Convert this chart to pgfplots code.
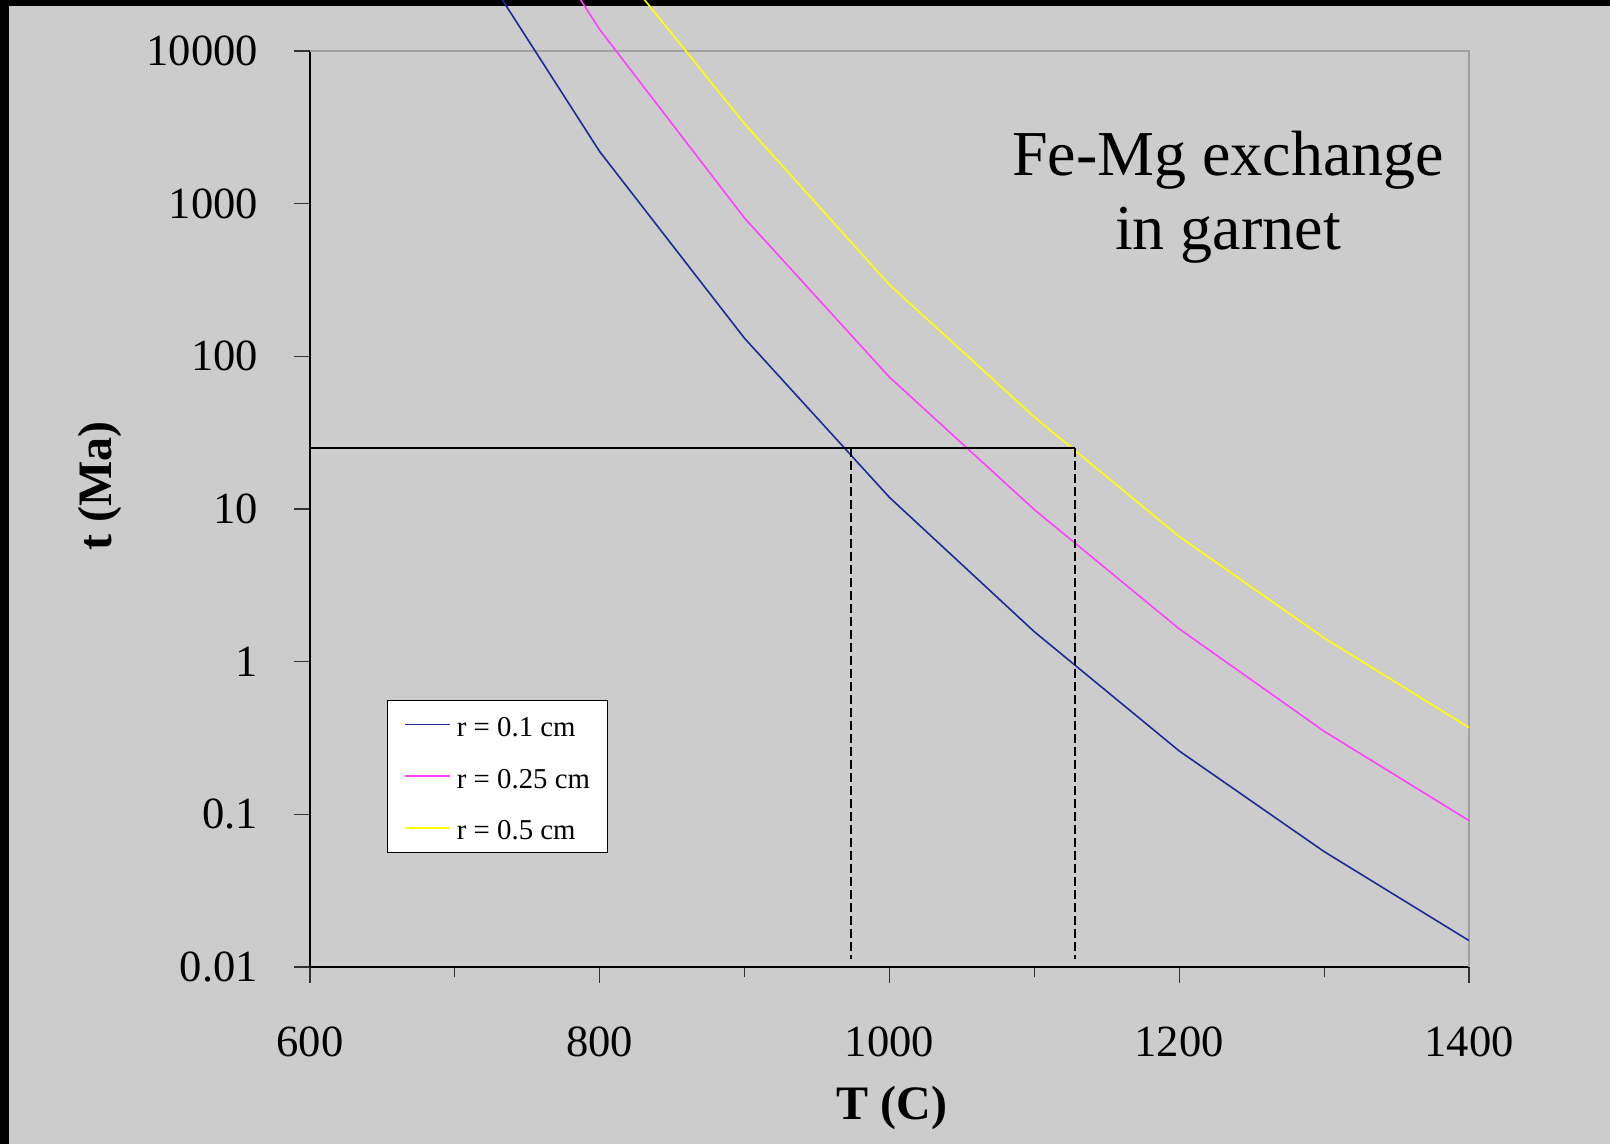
\documentclass[border=0pt]{standalone}
\usepackage{pgfplots}
\pgfplotsset{compat=1.18}
\usepackage{fontspec}
\setmainfont{Liberation Serif}
\definecolor{bg}{HTML}{CCCCCC}
\definecolor{cblue}{HTML}{1A2C96}
\definecolor{cpink}{HTML}{FF40FF}
\definecolor{cyellow}{HTML}{FFFF00}
\definecolor{framegray}{HTML}{A0A0A0}
\begin{document}
\begin{tikzpicture}
\path[use as bounding box] (0,0) rectangle (805pt,572pt);
\fill[bg] (0,0) rectangle (805pt,572pt);
\fill[black] (0,569pt) rectangle (805pt,572pt);
\fill[black] (0,0) rectangle (4.5pt,572pt);
\begin{scope}
\clip (0,0) rectangle (805pt,572pt);
\begin{axis}[
  at={(155pt,88.5pt)}, anchor=south west,
  scale only axis, width=579.5pt, height=458pt,
  xmin=600, xmax=1400, ymode=log, ymin=0.01, ymax=10000,
  clip=false,
  axis x line*=bottom, axis y line*=left,
  axis line style={black, line width=0.6pt},
  tick align=outside,
  xtick={600,800,1000,1200,1400},
  xticklabels={600,800,1000,1200,1400},
  minor xtick={700,900,1100,1300},
  ytick={0.01,0.1,1,10,100,1000,10000},
  yticklabels={0.01,0.1,1,10,100,1000,10000},
  yminorticks=false,
  major tick length=8pt, minor tick length=5pt,
  tick style={black!80, line width=0.6pt},
  ticklabel style={font=\fontsize{22.3}{26}\selectfont},
  yticklabel style={xshift=-14.5pt},
  xticklabel style={yshift=-18.5pt},
  xlabel={T (C)}, ylabel={t (Ma)},
  label style={font=\bfseries\fontsize{24}{28}\selectfont},
  xlabel style={at={(axis description cs:0.502,-0.167)}, anchor=base},
  ylabel style={at={(axis description cs:-0.1812,0.525)}, anchor=center},
  legend style={at={(0.0664,0.2915)}, anchor=north west, draw=black, fill=white,
    inner xsep=8.5pt, inner ysep=5.65pt, row sep=12.8pt, column sep=3pt,
    font=\fontsize{14.4}{17}\selectfont,
    nodes={inner sep=0pt, text height=12.5pt, text depth=0.5pt}},
  legend cell align=left,
  legend image code/.code={\draw[#1] (0pt,0pt) -- (22.5pt,0pt);},
]
\draw[framegray, line width=0.75pt] (rel axis cs:0,1) -- (rel axis cs:1,1) -- (rel axis cs:1,0);
\addplot[cblue, line width=0.8pt] coordinates {(700,66000) (800,2190) (900,131) (1000,11.9) (1100,1.57) (1200,0.26) (1300,0.057) (1400,0.0149)};
\addlegendentry{r = 0.1 cm}
\addplot[cpink, line width=0.8pt] coordinates {(700,412000) (800,13800) (900,803) (1000,73) (1100,9.9) (1200,1.64) (1300,0.35) (1400,0.091)};
\addlegendentry{r = 0.25 cm}
\addplot[cyellow, line width=0.8pt] coordinates {(700,1650000) (800,50000) (900,3330) (1000,294) (1100,40) (1200,6.6) (1300,1.43) (1400,0.37)};
\addlegendentry{r = 0.5 cm}
\addplot[black, line width=1pt, forget plot] coordinates {(600,25) (1128.3,25)};
\addplot[black, line width=1pt, dash pattern=on 4.5pt off 2pt, forget plot] coordinates {(973.6,25) (973.6,0.0113)};
\addplot[black, line width=1pt, dash pattern=on 4.5pt off 2pt, forget plot] coordinates {(1128.3,25) (1128.3,0.0113)};
\node[anchor=base, font=\fontsize{32}{36}\selectfont] at (rel axis cs:0.792,0.8646) {Fe-Mg exchange};
\node[anchor=base, font=\fontsize{32}{36}\selectfont] at (rel axis cs:0.792,0.7828) {in garnet};
\end{axis}
\end{scope}
\end{tikzpicture}
\end{document}
